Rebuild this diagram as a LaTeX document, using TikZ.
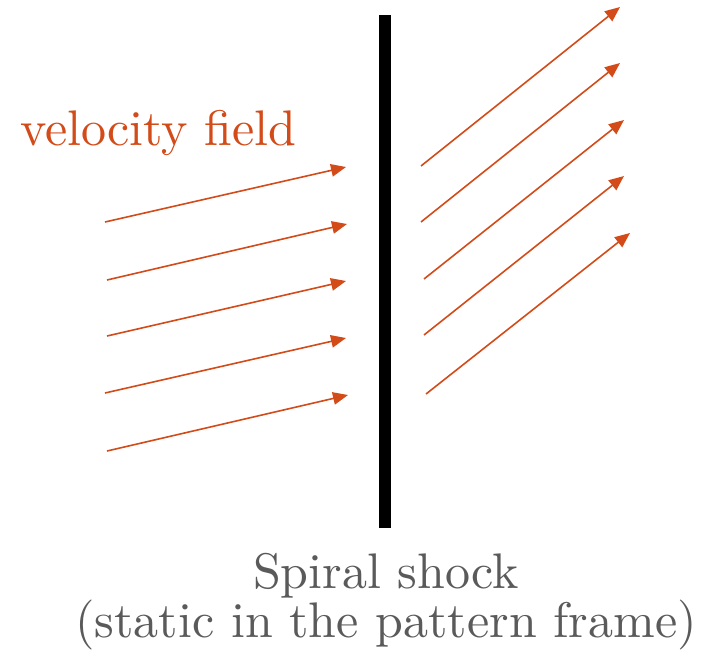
\documentclass[tikz,border=0pt]{standalone}
\usepackage{fontspec}
\newfontfamily\lmten{lmroman10-regular.otf}
\usetikzlibrary{arrows.meta}
\definecolor{vorange}{RGB}{210,75,25}
\definecolor{tgray}{RGB}{90,90,90}
\begin{document}
\begin{tikzpicture}[x=1pt,y=-1pt,
  vel/.style={draw=vorange,line width=1.6pt,-{Triangle[length=15pt,width=12.5pt]},color=vorange},
  lbl/.style={inner sep=0pt,anchor=base}]
\useasboundingbox (0,0) rectangle (704,656);
% shock
\fill[black] (379,15) rectangle (391,528);
% left arrows
\foreach \i/\xa/\ya/\xb/\yb in {1/105/222/346/167, 2/107/280/347/224, 3/107/336/346/281, 4/105/393/346/338, 5/107/451/348/395}{
  \coordinate (l\i s) at (\xa,\ya);
  \coordinate (l\i e) at (\xb,\yb);
  \draw[vel] (l\i s) -- (l\i e);
}
% right arrows
\foreach \i/\xa/\ya/\xb/\yb in {1/421/166/620/7, 2/421/222/620/63, 3/424/279/624/120, 4/424/335/624/176, 5/426/394/630/233}{
  \coordinate (r\i s) at (\xa,\ya);
  \coordinate (r\i e) at (\xb,\yb);
  \draw[vel] (r\i s) -- (r\i e);
}
\node[lbl,anchor=base west,text=vorange,font=\lmten\fontsize{50}{56}\selectfont] (vf) at (20,145) {velocity field};
\node[lbl,text=tgray,font=\lmten\fontsize{50}{56}\selectfont] (ss) at (386,588) {Spiral shock};
\node[lbl,text=tgray,font=\lmten\fontsize{50}{56}\selectfont] (st) at (386,637) {(static in the pattern frame)};
\end{tikzpicture}
\end{document}
